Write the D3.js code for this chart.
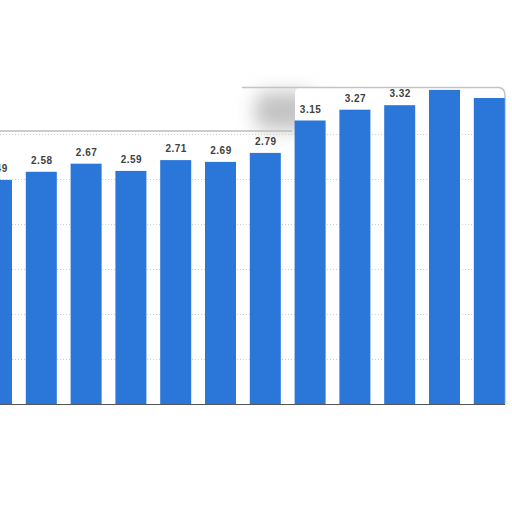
<!DOCTYPE html>
<html>
<head>
<meta charset="utf-8">
<script src="https://cdn.jsdelivr.net/npm/d3@7"></script>
<style>
  html, body { margin: 0; padding: 0; background: #fff; }
  svg { display: block; }
</style>
</head>
<body>
<div id="chart"></div>
<script>
// values; the last two labels are cut off by the panel top
var categories = ["2008", "2009", "2010", "2011", "2012", "2013", "2014", "2015", "2016", "2017", "2018", "2019"];
var values = [2.49, 2.58, 2.67, 2.59, 2.71, 2.69, 2.79, 3.15, 3.27, 3.32, 3.49, 3.40];
var gridTicks = [0.5, 1, 1.5, 2, 2.5, 3];

function draw_chart(lugar)
{
  "use strict";

  var width = 512,
    height = 512,
    base = 404,
    panelTop = 88;

  var svg = d3.select(lugar)
    .append("svg")
      .attr("width", width)
      .attr("height", height);

  var defs = svg.append("defs");
  defs.append("filter").attr("id", "blur")
    .attr("x", "-50%").attr("y", "-50%").attr("width", "200%").attr("height", "200%")
    .append("feGaussianBlur").attr("stdDeviation", 9);
  defs.append("filter").attr("id", "blur-small")
    .append("feGaussianBlur").attr("stdDeviation", 1);

  var x = d3.scaleBand()
    .domain(categories)
    .range([-25.9, 511.7])
    .paddingInner(0.308)
    .paddingOuter(0.154);

  var y = d3.scaleLinear()
    .domain([0, 3.5])
    .range([base, 89]);

  // shadow cast by the raised right part of the panel
  svg.append("rect")
    .attr("x", 255).attr("y", 92)
    .attr("width", 60).attr("height", 38)
    .attr("rx", 12)
    .attr("fill", "#c4c4c4")
    .attr("filter", "url(#blur)");

  // raised right panel
  svg.append("rect")
    .attr("x", 295).attr("y", 87)
    .attr("width", 210).attr("height", base - 87)
    .attr("rx", 6)
    .attr("fill", "#fff");

  // panel edges
  svg.append("path")
    .attr("d", "M0,131 L292,131")
    .attr("stroke", "#bdbdbd").attr("stroke-width", 1.5).attr("fill", "none");
  svg.append("path")
    .attr("d", "M242,87.5 L499,87.5 Q505,88 505,96 L505,404")
    .attr("stroke", "#c4c4c4").attr("stroke-width", 1.5).attr("fill", "none");
  svg.append("path")
    .attr("d", "M0,407.5 L505,407.5")
    .attr("stroke", "#cccccc").attr("stroke-width", 2.5).attr("fill", "none")
    .attr("filter", "url(#blur-small)");

  // dotted grid lines
  svg.append("g")
    .selectAll("line")
    .data(gridTicks)
    .join("line")
      .attr("x1", 0).attr("x2", 504)
      .attr("y1", function (d) { return Math.round(y(d)) + 0.5; })
      .attr("y2", function (d) { return Math.round(y(d)) + 0.5; })
      .attr("stroke", "#cfcfcf")
      .attr("stroke-width", 1)
      .attr("stroke-dasharray", "1,2");

  // bars
  svg.append("g")
    .selectAll("rect")
    .data(values)
    .join("rect")
      .attr("x", function (d, i) { return x(categories[i]); })
      .attr("y", function (d) { return y(d); })
      .attr("width", x.bandwidth())
      .attr("height", function (d) { return base - y(d); })
      .attr("fill", "#2a76d9");

  // baseline
  svg.append("line")
    .attr("x1", 0).attr("x2", 505)
    .attr("y1", base + 0.5).attr("y2", base + 0.5)
    .attr("stroke", "#555").attr("stroke-width", 1.2);

  // value labels (the ones that would stick out above the panel are not shown)
  var shown = values
    .map(function (d, i) { return { v: d, c: categories[i] }; })
    .filter(function (d) { return y(d.v) - 15 >= panelTop; });

  svg.append("g")
    .selectAll("text")
    .data(shown)
    .join("text")
      .attr("x", function (d) { return x(d.c) + x.bandwidth() / 2 + 0.5; })
      .attr("y", function (d) { return y(d.v) - 8; })
      .attr("text-anchor", "middle")
      .style("font-family", "'Liberation Sans', Arial, sans-serif")
      .style("font-weight", "bold")
      .style("font-size", "10px")
      .style("letter-spacing", "0.5px")
      .attr("fill", "#3f3f3f")
      .text(function (d) { return d.v.toFixed(2); });
}

draw_chart("#chart");
</script>
</body>
</html>
